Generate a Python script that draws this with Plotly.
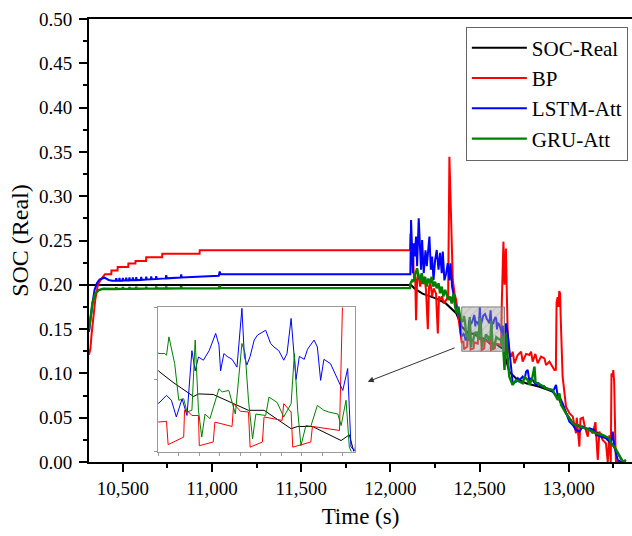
import plotly.graph_objects as go

# ---------------- data ----------------
SOC_REAL = [(10310,0.1998),(12115,0.1998),(12135,0.196),(12180,0.190),(12255,0.1847),(12311,0.179),
    (12369,0.168),(12385,0.160),(12400,0.153),(12418,0.149),(12443,0.1441),(12449,0.145),(12467,0.1448),
    (12492,0.1416),(12510,0.1393),(12529,0.1393),(12562,0.1329),(12570,0.1337),(12588,0.1337),
    (12623,0.1288),(12633,0.1308),(12645,0.118),(12667,0.102),(12705,0.0944),(12761,0.0888),
    (12836,0.085),(12910,0.0794),(12948,0.070),(12985,0.055),(13023,0.0437),(13097,0.038),
    (13172,0.0324),(13228,0.0249),(13265,0.0136),(13303,0.0004),(13320,0.0)]

BP = [(10310,0.121),(10318,0.128),(10325,0.145),(10335,0.165),(10345,0.183),(10360,0.200),
    (10380,0.207),(10400,0.212),(10435,0.212),(10436,0.216),(10470,0.216),(10471,0.220),(10530,0.220),
    (10531,0.224),(10570,0.224),(10571,0.227),(10630,0.227),(10631,0.231),(10720,0.231),(10721,0.235),
    (10930,0.235),(10931,0.239),(12110,0.239),
    (12113,0.258),(12118,0.222),(12124,0.245),(12133,0.2055),(12139,0.213),(12144,0.160),(12150,0.205),
    (12157,0.213),(12167,0.198),(12174,0.205),(12182,0.201),(12191,0.209),(12200,0.194),(12210,0.150),
    (12217,0.198),(12225,0.2017),(12234,0.187),(12243,0.196),(12256,0.190),(12266,0.145),(12273,0.187),
    (12281,0.183),(12290,0.187),(12300,0.179),(12313,0.183),(12324,0.1867),(12331,0.3446),(12337,0.2882),
    (12343,0.2544),(12350,0.2055),(12360,0.19),(12369,0.183),(12378,0.168),(12387,0.1529),(12395,0.138),
    (12400,0.1352),(12410,0.1355),(12412,0.1274),(12431,0.130),(12432,0.1393),(12437,0.1387),
    (12441,0.1375),(12449,0.1375),(12450,0.127),(12467,0.1283),(12469,0.1352),(12490,0.1337),
    (12492,0.1416),(12500,0.139),(12510,0.1387),(12512,0.1265),(12527,0.1283),(12529,0.137),
    (12551,0.1358),(12553,0.1416),(12562,0.1387),(12564,0.1265),(12586,0.1283),(12588,0.1337),
    (12621,0.1323),(12625,0.18),(12630,0.22),(12634,0.2487),(12640,0.20),(12644,0.23),(12648,0.241),
    (12652,0.20),(12658,0.145),(12667,0.1226),(12677,0.119),(12686,0.1245),(12696,0.1114),(12714,0.1208),
    (12733,0.1245),(12742,0.1133),(12761,0.122),(12780,0.1208),(12789,0.1245),(12798,0.1133),
    (12813,0.122),(12826,0.1114),(12845,0.119),(12864,0.117),(12873,0.1095),(12892,0.1133),
    (12910,0.1076),(12920,0.1038),(12928,0.104),(12932,0.18),(12938,0.186),(12943,0.175),(12947,0.193),
    (12952,0.19),(12955,0.164),(12966,0.0963),(12985,0.0625),(13004,0.055),(13023,0.0512),(13041,0.0324),
    (13045,0.050),(13060,0.0174),(13066,0.049),(13080,0.050),(13090,0.040),(13107,0.0286),(13112,0.038),
    (13135,0.0324),(13150,0.045),(13163,0.0023),(13172,0.0343),(13190,0.025),(13209,0.021),(13219,0.0),
    (13228,0.030),(13236,0.0),(13240,0.10),(13247,0.0963),(13250,0.1038),(13255,0.090),(13262,0.02),
    (13265,0.0),(13300,0.0)]

LSTM_ATT = [(10310,0.147),(10320,0.165),(10330,0.180),(10341,0.194),(10355,0.202),(10369,0.206),
    (10397,0.208),(10420,0.2055),(10440,0.2046),
    (10460,0.2046),(10463,0.2075),(10466,0.2046),(10478,0.2046),(10481,0.2078),(10484,0.2047),
    (10497,0.2047),(10500,0.2078),(10503,0.2048),(10516,0.2048),(10519,0.2080),(10522,0.2049),
    (10534,0.2049),(10537,0.2082),(10540,0.2050),(10553,0.2050),(10556,0.2084),(10559,0.2051),
    (10572,0.2052),(10575,0.2086),(10578,0.2053),(10600,0.2055),(10603,0.2090),(10606,0.2056),
    (10628,0.2058),(10631,0.2092),(10634,0.2059),(10656,0.2061),(10659,0.2094),(10662,0.2062),
    (10684,0.2064),(10687,0.2098),(10690,0.2065),(10740,0.2072),(10743,0.2108),(10746,0.2073),
    (10824,0.2082),(10827,0.2118),(10830,0.2083),(11038,0.2103),(11043,0.2150),(11048,0.2118),
    (12112,0.2118),
    (12116,0.273),(12122,0.239),(12126,0.213),(12131,0.247),(12137,0.232),(12144,0.2544),(12150,0.221),
    (12159,0.275),(12167,0.240),(12172,0.217),(12178,0.2506),(12187,0.213),(12197,0.239),(12204,0.221),
    (12214,0.243),(12219,0.2544),(12227,0.217),(12234,0.232),(12242,0.2055),(12251,0.228),(12260,0.2393),
    (12270,0.217),(12279,0.236),(12288,0.213),(12294,0.2374),(12303,0.205),(12313,0.213),(12322,0.2243),
    (12331,0.205),(12337,0.2243),(12346,0.198),(12356,0.1867),(12365,0.1754),(12374,0.168),(12383,0.172),
    (12391,0.1604),(12395,0.145),
    (12400,0.1416),(12410,0.1445),(12416,0.1428),(12422,0.137),(12429,0.1433),(12435,0.1375),
    (12441,0.160),(12445,0.153),(12449,0.1578),(12455,0.1567),(12462,0.160),(12470,0.166),(12474,0.162),
    (12476,0.153),(12480,0.159),(12484,0.158),(12490,0.157),(12496,0.1543),(12502,0.1747),(12505,0.158),
    (12508,0.1550),(12512,0.158),(12517,0.1637),(12521,0.1654),(12531,0.1671),(12537,0.1625),
    (12541,0.1613),(12547,0.160),(12553,0.1567),(12557,0.159),(12562,0.1712),(12566,0.158),(12568,0.150),
    (12572,0.158),(12578,0.157),(12582,0.1605),(12590,0.1637),(12594,0.1613),(12598,0.1497),
    (12602,0.157),(12610,0.1555),(12625,0.1462),(12631,0.1538),(12635,0.1265),(12640,0.1253),
    (12645,0.150),(12649,0.1565),(12658,0.1452),(12667,0.125),(12677,0.1076),(12686,0.0888),
    (12705,0.0907),(12715,0.0945),(12724,0.0926),(12742,0.0963),(12752,0.093),(12761,0.102),
    (12770,0.104),(12780,0.0907),(12790,0.095),(12798,0.0926),(12817,0.0869),(12830,0.089),
    (12845,0.085),(12860,0.086),(12873,0.0832),(12890,0.082),(12910,0.0794),(12920,0.083),(12929,0.0869),
    (12939,0.0738),(12948,0.0738),(12966,0.0662),(12985,0.055),(13004,0.0456),(13023,0.0418),
    (13041,0.0362),(13060,0.0343),(13079,0.040),(13100,0.037),(13116,0.0381),(13144,0.0362),
    (13153,0.0305),(13181,0.0286),(13209,0.0268),(13237,0.0211),(13247,0.0343),(13256,0.0174),
    (13275,0.0023),(13294,0.0)]

GRU_ATT = [(10310,0.150),(10320,0.168),(10330,0.180),(10345,0.190),(10365,0.194),(10390,0.1955),
    (10460,0.1953),(10463,0.1972),(10466,0.1953),(10497,0.1954),(10500,0.1974),(10503,0.1954),
    (10534,0.1955),(10537,0.1975),(10540,0.1955),(10572,0.1956),(10575,0.1976),(10578,0.1956),
    (10628,0.1957),(10631,0.1978),(10634,0.1957),(10684,0.1958),(10687,0.1979),(10690,0.1958),
    (10740,0.1959),(10743,0.1980),(10746,0.1959),(10824,0.1960),(10827,0.1982),(10830,0.1960),
    (11038,0.1960),(11043,0.1990),(11048,0.1962),(12110,0.1962),
    (12113,0.2017),(12122,0.205),(12130,0.2035),(12141,0.213),(12150,0.2186),(12158,0.209),(12167,0.205),
    (12176,0.213),(12186,0.201),(12195,0.209),(12204,0.198),(12213,0.207),(12223,0.2017),(12232,0.209),
    (12241,0.198),(12251,0.2035),(12260,0.1961),(12270,0.2017),(12279,0.1905),(12288,0.198),(12297,0.187),
    (12307,0.1943),(12316,0.1886),(12326,0.1829),(12335,0.1867),(12344,0.179),(12354,0.190),(12363,0.1754),
    (12372,0.168),(12382,0.1754),(12391,0.1641),(12396,0.162),
    (12400,0.159),(12408,0.159),(12410,0.1584),(12413,0.1648),(12420,0.1555),(12425,0.1428),(12431,0.1433),
    (12435,0.1387),(12441,0.1393),(12445,0.1637),(12449,0.1393),(12453,0.130),(12457,0.138),(12463,0.1364),
    (12474,0.1468),(12478,0.1457),(12486,0.1462),(12494,0.138),(12502,0.1625),(12506,0.159),(12510,0.1428),
    (12515,0.1294),(12519,0.138),(12531,0.1375),(12535,0.1439),(12545,0.142),(12553,0.137),(12562,0.1416),
    (12566,0.159),(12570,0.1393),(12574,0.127),(12580,0.1340),(12586,0.1337),(12594,0.141),(12602,0.1393),
    (12608,0.1387),(12619,0.138),(12623,0.134),(12629,0.1428),(12633,0.1265),(12637,0.124),
    (12640,0.104),(12645,0.13),(12649,0.1452),(12655,0.125),(12660,0.115),(12667,0.0963),(12686,0.087),
    (12705,0.0926),(12724,0.0907),(12742,0.0888),(12752,0.0963),(12770,0.0926),(12780,0.087),
    (12795,0.0944),(12808,0.1076),(12814,0.090),(12845,0.0869),(12873,0.0832),(12910,0.0813),
    (12939,0.0700),(12948,0.0775),(12957,0.0644),(12985,0.055),(13023,0.0437),(13060,0.040),
    (13097,0.038),(13153,0.0324),(13190,0.0305),(13228,0.0268),(13237,0.0211),(13256,0.0174),
    (13275,0.010),(13303,0.0004),(13322,0.0023)]

SERIES_NAMES = ["SOC-Real", "BP", "LSTM-Att", "GRU-Att"]
SERIES_DATA = [SOC_REAL, BP, LSTM_ATT, GRU_ATT]
SERIES_COLORS = ["#000000", "#ff0000", "#0000ff", "#008000"]
SERIES_WIDTHS = [2, 2, 2, 2.4]

X_TICKS = [10500, 11000, 11500, 12000, 12500, 13000]
X_TICK_LABELS = ["10,500", "11,000", "11,500", "12,000", "12,500", "13,000"]
Y_TICKS = [0.0, 0.05, 0.10, 0.15, 0.20, 0.25, 0.30, 0.35, 0.40, 0.45, 0.50]
Y_TICK_LABELS = ["0.00", "0.05", "0.10", "0.15", "0.20", "0.25", "0.30", "0.35", "0.40", "0.45", "0.50"]

ZOOM_X = [12400, 12640]
ZOOM_Y = [0.125, 0.175]

FONT = "'Liberation Serif', 'Times New Roman', serif"

fig = go.Figure()

for name, pts, col, w in zip(SERIES_NAMES, SERIES_DATA, SERIES_COLORS, SERIES_WIDTHS):
    t = [p[0] for p in pts]
    v = [p[1] for p in pts]
    fig.add_trace(go.Scatter(x=t, y=v, mode="lines", name=name,
                             line=dict(color=col, width=w), xaxis="x", yaxis="y"))

# zoom window rectangle (hatched, semi-transparent)
fig.add_trace(go.Scatter(
    x=[ZOOM_X[0], ZOOM_X[1], ZOOM_X[1], ZOOM_X[0], ZOOM_X[0]],
    y=[ZOOM_Y[0], ZOOM_Y[0], ZOOM_Y[1], ZOOM_Y[1], ZOOM_Y[0]],
    mode="lines", fill="toself", showlegend=False, hoverinfo="skip",
    line=dict(color="rgba(120,120,120,0.9)", width=1),
    fillcolor="rgba(150,150,150,0.45)",
    fillpattern=dict(shape="/", bgcolor="rgba(160,160,160,0.45)",
                     fgcolor="rgba(110,110,110,0.6)", size=6, solidity=0.15),
    xaxis="x", yaxis="y"))

# inset
for name, pts, col in zip(SERIES_NAMES, SERIES_DATA, SERIES_COLORS):
    t = [p[0] for p in pts]
    v = [p[1] for p in pts]
    fig.add_trace(go.Scatter(x=t, y=v, mode="lines", name=name, showlegend=False,
                             line=dict(color=col, width=1), xaxis="x2", yaxis="y2"))

fig.update_layout(
    width=632, height=536,
    margin=dict(l=89, r=0, t=19, b=74),
    paper_bgcolor="white", plot_bgcolor="white",
    font=dict(family=FONT, color="black", size=19),
    showlegend=True,
    legend=dict(x=0.694, y=0.983, xanchor="left", yanchor="top",
                bgcolor="white", bordercolor="#666666", borderwidth=1,
                font=dict(family=FONT, size=21, color="black"),
                itemwidth=55, tracegroupgap=0),
    xaxis=dict(range=[10310, 13355], tickvals=X_TICKS, ticktext=X_TICK_LABELS,
               showline=True, linecolor="black", linewidth=2, mirror=True,
               ticks="outside", ticklen=8, tickwidth=1.5, tickcolor="black",
               minor=dict(ticks="outside", ticklen=4, tickwidth=1.5, tickcolor="black",
                          dtick=250, tick0=10500),
               showgrid=False, zeroline=False,
               title=dict(text="Time (s)", font=dict(family=FONT, size=23), standoff=10),
               tickfont=dict(family=FONT, size=19)),
    yaxis=dict(range=[0, 0.5], tickvals=Y_TICKS, ticktext=Y_TICK_LABELS,
               showline=True, linecolor="black", linewidth=2, mirror=False,
               ticks="outside", ticklen=8, tickwidth=1.5, tickcolor="black",
               ticklabelstandoff=3,
               minor=dict(ticks="outside", ticklen=4, tickwidth=1.5, tickcolor="black",
                          dtick=0.025, tick0=0),
               showgrid=False, zeroline=False,
               title=dict(text="SOC (Real)", font=dict(family=FONT, size=24), standoff=4),
               tickfont=dict(family=FONT, size=19)),
    xaxis2=dict(domain=[0.1276, 0.490], anchor="y2", range=ZOOM_X,
                showline=True, linecolor="#999999", linewidth=1, mirror=True,
                ticks="outside", ticklen=3, tickcolor="#999999", dtick=25, tick0=12400,
                showticklabels=False, showgrid=False, zeroline=False),
    yaxis2=dict(domain=[0.0237, 0.3488], anchor="x2", range=ZOOM_Y,
                showline=True, linecolor="#999999", linewidth=1, mirror=True,
                ticks="outside", ticklen=3, tickcolor="#999999", dtick=0.025, tick0=0.125,
                showticklabels=False, showgrid=False, zeroline=False),
    annotations=[dict(x=11873, y=0.0906, ax=12369, ay=0.1295, xref="x", yref="y",
                      axref="x", ayref="y", showarrow=True, arrowhead=2, arrowsize=1.2,
                      arrowwidth=1, arrowcolor="#333333", text="")],
)

fig.write_html("out.html")
